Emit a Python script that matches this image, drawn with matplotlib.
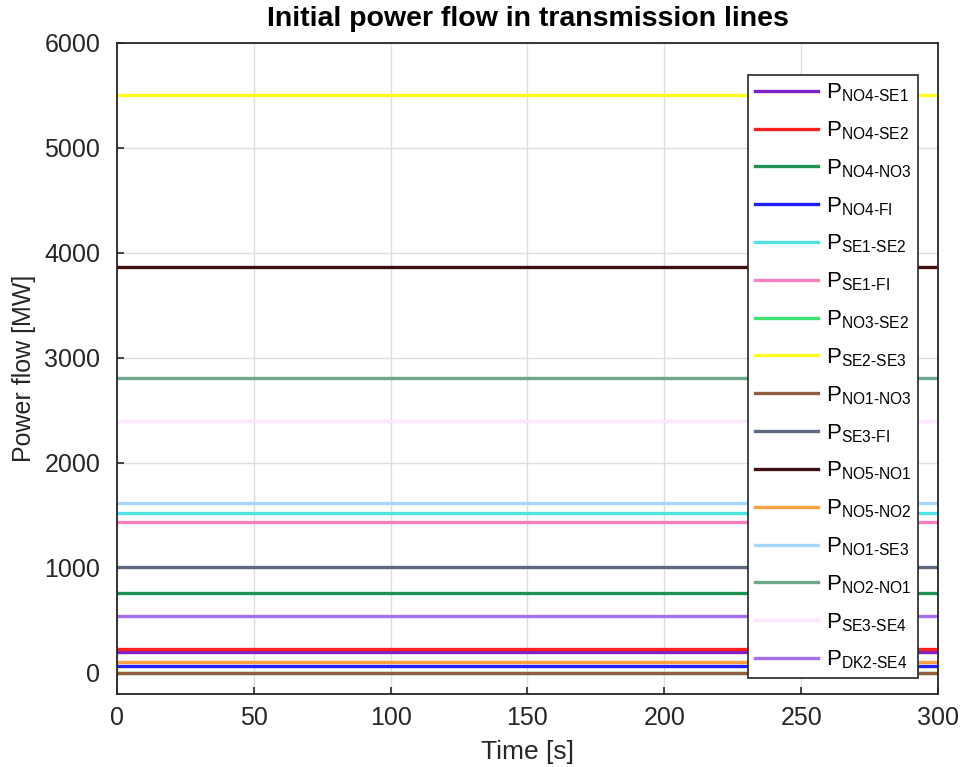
import matplotlib
matplotlib.use("Agg")
import matplotlib.pyplot as plt

plt.rcParams["font.family"] = ["Liberation Sans", "DejaVu Sans"]
plt.rcParams["mathtext.fontset"] = "custom"
plt.rcParams["mathtext.rm"] = "Liberation Sans"

# time span of the simulation (s)
time = [0, 300]

# line names and initial flows (MW)
lines = [
    "NO4-SE1", "NO4-SE2", "NO4-NO3", "NO4-FI", "SE1-SE2", "SE1-FI",
    "NO3-SE2", "SE2-SE3", "NO1-NO3", "SE3-FI", "NO5-NO1", "NO5-NO2",
    "NO1-SE3", "NO2-NO1", "SE3-SE4", "DK2-SE4",
]
flows = [
    200, 230, 762, 67, 1524, 1438,
    0, 5500, 0, 1010, 3867, 105,
    1619, 2810, 2400, 543,
]
colors = [
    "#7d22c8", "#ff1f1f", "#1f9150", "#1f1fff", "#4fe3e3", "#ff80c0",
    "#3fe070", "#ffff1f", "#8f5f3f", "#5f6a80", "#3f0f12", "#ffa040",
    "#a6d8ff", "#6fa88c", "#ffe6ff", "#a66ff0",
]

fig = plt.figure(figsize=(9.63, 7.67), dpi=100)
ax = fig.add_axes([0.1215, 0.0952, 0.8525, 0.849])

for name, flow, color in zip(lines, flows, colors):
    label = "P$_{\\mathregular{%s}}$" % name.replace("-", "\u2010")
    ax.plot(time, [flow, flow], color=color, linewidth=2.4, label=label)

ax.set_xlim(0, 300)
ax.set_ylim(-200, 6000)
ax.set_xticks(range(0, 301, 50))
ax.set_yticks(range(0, 6001, 1000))
ax.grid(True, color="#dedede", linewidth=1)
ax.set_axisbelow(True)
ax.tick_params(direction="in", labelsize=18, colors="#262626", length=5, width=1.2)
ax.tick_params(axis="y", pad=12)
ax.tick_params(axis="x", pad=9)
for sp in ax.spines.values():
    sp.set_color("#262626")
    sp.set_linewidth(1.3)

ax.set_xlabel("Time [s]", fontsize=19, color="#262626", labelpad=7)
ax.set_ylabel("Power flow [MW]", fontsize=18, color="#262626", labelpad=6)
ax.set_title("Initial power flow in transmission lines", fontsize=20.5,
             fontweight="bold", pad=12)

leg = ax.legend(loc="upper right", bbox_to_anchor=(0.9756, 0.9508),
                borderaxespad=0, fontsize=16, handlelength=2.85,
                labelspacing=0.685, fancybox=False, framealpha=1,
                edgecolor="#262626", borderpad=0.3, handletextpad=0.35)
leg.get_frame().set_linewidth(1.2)

fig.savefig("out.png", dpi=100)
